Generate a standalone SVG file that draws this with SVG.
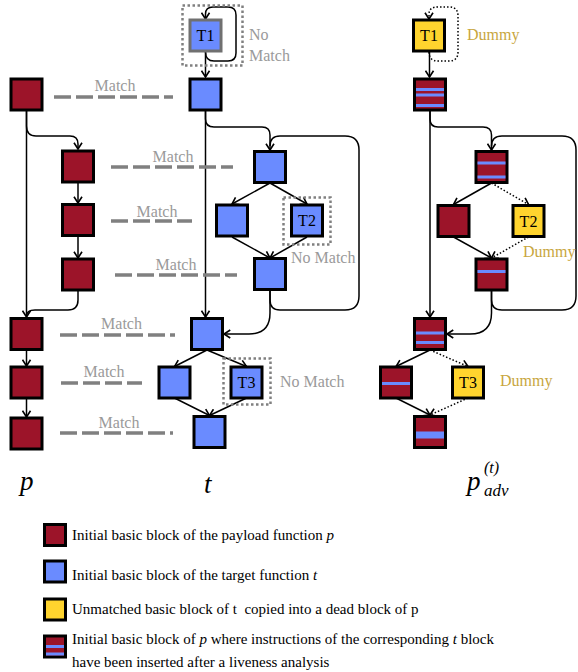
<svg xmlns="http://www.w3.org/2000/svg" width="578" height="672" viewBox="0 0 578 672">
<defs>
<style>
.bx{stroke:#000;stroke-width:3}
.red{fill:#9c1429}
.blue{fill:#6a8bff}
.yel{fill:#ffd42e}
.stp{fill:#6a8bff}
.e{fill:none;stroke:#000;stroke-width:1.5}
.d{fill:none;stroke:#000;stroke-width:1.5;stroke-dasharray:1.5 2}
.m{fill:none;stroke:#808080;stroke-width:3.5;stroke-dasharray:17 5}
.dot{fill:none;stroke:#808080;stroke-width:2.5;stroke-dasharray:2.5 2.5}
.lbl{font-family:"Liberation Serif","DejaVu Serif",serif;font-size:16px;fill:#9a9a9a}
.dum{font-family:"Liberation Serif","DejaVu Serif",serif;font-size:16px;fill:#c8a640}
.tn{font-family:"Liberation Serif","DejaVu Serif",serif;font-size:16px;fill:#000;text-anchor:middle}
.big{font-family:"Liberation Serif","DejaVu Serif",serif;font-style:italic;fill:#000}
.leg{font-family:"Liberation Serif","DejaVu Serif",serif;font-size:15px;fill:#000}
</style>
<marker id="ar" markerUnits="userSpaceOnUse" markerWidth="10" markerHeight="10" refX="0" refY="0" viewBox="-6 -4 7 8" orient="auto">
<path d="M-5,-3.2 L0,0 L-5,3.2" fill="none" stroke="#000" stroke-width="1.3"/>
</marker>
</defs>

<g id="connectors">
<!-- p -->
<path class="e" d="M26.5,111 L26.5,317" marker-end="url(#ar)"/>
<path class="e" d="M26.5,111 L26.5,126 Q26.5,136 36,136 L70,136 Q78,136 78,144 L78,149" marker-end="url(#ar)"/>
<path class="e" d="M78,183 L78,203" marker-end="url(#ar)"/>
<path class="e" d="M78,236 L78,258" marker-end="url(#ar)"/>
<path class="e" d="M78,291 L78,300 Q78,310 68,310 L35,310 Q26.5,310 26.5,316"/>
<path class="e" d="M26.5,350 L26.5,366" marker-end="url(#ar)"/>
<path class="e" d="M26.5,399 L26.5,417" marker-end="url(#ar)"/>
<!-- t -->
<path class="e" d="M205.5,52 Q205.5,61 214,61 L228,61 Q236,61 236,53 L236,15 Q236,7 228,7 L213,7 Q205.5,7 205.5,14 L205.5,19" marker-end="url(#ar)"/>
<path class="e" d="M205.5,52 L205.5,77" marker-end="url(#ar)"/>
<path class="e" d="M205.5,111 L205.5,317" marker-end="url(#ar)"/>
<path class="e" d="M205.5,111 L205.5,119 Q205.5,127 214,127 L262,127 Q270,127 270,135 L270,150" marker-end="url(#ar)"/>
<path class="e" d="M270,290 L270,300 Q270,310 280,310 L345,310 Q359,310 359,296 L359,150 Q359,136 345,136 L280,136 Q270,136 270,146"/>
<path class="e" d="M270,183 L232,204" marker-end="url(#ar)"/>
<path class="e" d="M270,183 L307,204" marker-end="url(#ar)"/>
<path class="e" d="M232,237 L270,258" marker-end="url(#ar)"/>
<path class="e" d="M307,237 L270,258" marker-end="url(#ar)"/>
<path class="e" d="M270,290 L270,313 Q270,334 249,334 L224,334" marker-end="url(#ar)"/>
<path class="e" d="M207,350 L174.5,366.5" marker-end="url(#ar)"/>
<path class="e" d="M207,350 L246.5,366.5" marker-end="url(#ar)"/>
<path class="e" d="M174.5,398 L209.5,415.5" marker-end="url(#ar)"/>
<path class="e" d="M246.5,398 L209.5,415.5" marker-end="url(#ar)"/>
<!-- p_adv -->
<path class="d" d="M429,52 Q429,61 438,61 L449,61 Q458,61 458,52 L458,16 Q458,7 449,7 L438,7 Q429,7 429,14 L429,19" marker-end="url(#ar)"/>
<path class="e" d="M429.5,52 L429.5,77" marker-end="url(#ar)"/>
<path class="e" d="M430,111 L430,317" marker-end="url(#ar)"/>
<path class="e" d="M430,111 L430,119 Q430,127 438,127 L483,127 Q491.5,127 491.5,135 L491.5,150" marker-end="url(#ar)"/>
<path class="e" d="M491.5,291 L491.5,300 Q491.5,310 502,310 L562,310 Q576,310 576,296 L576,150 Q576,136 562,136 L502,136 Q491.5,136 491.5,146"/>
<path class="e" d="M491.5,183 L453.5,204.5" marker-end="url(#ar)"/>
<path class="d" d="M491.5,183 L528.5,204.5" marker-end="url(#ar)"/>
<path class="e" d="M453.5,237 L491.5,258" marker-end="url(#ar)"/>
<path class="d" d="M528.5,237 L491.5,258" marker-end="url(#ar)"/>
<path class="e" d="M491.5,291 L491.5,313 Q491.5,334 470,334 L447,334" marker-end="url(#ar)"/>
<path class="e" d="M430,350 L396,366.5" marker-end="url(#ar)"/>
<path class="d" d="M430,350 L468,366.5" marker-end="url(#ar)"/>
<path class="e" d="M396,398 L430,415" marker-end="url(#ar)"/>
<path class="d" d="M468,398 L430,415" marker-end="url(#ar)"/>
</g>

<g id="matches">
<path class="m" d="M54,97 L173,97"/>
<text class="lbl" x="115" y="90.5" text-anchor="middle">Match</text>
<path class="m" d="M111,167 L233,167"/>
<text class="lbl" x="173" y="162" text-anchor="middle">Match</text>
<path class="m" d="M111,221 L192,221"/>
<text class="lbl" x="157" y="216.5" text-anchor="middle">Match</text>
<path class="m" d="M115,275 L237,275"/>
<text class="lbl" x="176" y="270" text-anchor="middle">Match</text>
<path class="m" d="M60,335 L175,335"/>
<text class="lbl" x="121.5" y="329" text-anchor="middle">Match</text>
<path class="m" d="M61,383 L142,383"/>
<text class="lbl" x="104" y="377" text-anchor="middle">Match</text>
<path class="m" d="M60,433 L173,433"/>
<text class="lbl" x="119" y="428" text-anchor="middle">Match</text>
</g>

<!-- p nodes -->
<g id="p1"><rect class="bx red" x="11" y="79" width="31" height="31"/></g>
<g id="p2"><rect class="bx red" x="62.5" y="151" width="31" height="31"/></g>
<g id="p3"><rect class="bx red" x="62.5" y="204.5" width="31" height="31"/></g>
<g id="p4"><rect class="bx red" x="62.5" y="259" width="31" height="31"/></g>
<g id="p5"><rect class="bx red" x="11" y="318.5" width="31" height="31"/></g>
<g id="p6"><rect class="bx red" x="11" y="367" width="31" height="31"/></g>
<g id="p7"><rect class="bx red" x="11" y="418" width="31" height="31"/></g>

<!-- t nodes -->
<g id="t1box"><rect class="dot" x="182.5" y="5.5" width="60" height="60"/></g>
<g id="t1"><rect class="blue" x="190" y="20" width="31" height="31" stroke="#707070" stroke-width="3"/><text class="tn" x="205.5" y="41">T1</text></g>
<text class="lbl" x="249" y="40">No</text>
<text class="lbl" x="249" y="61">Match</text>
<g id="tb"><rect class="bx blue" x="190" y="79" width="31" height="31"/></g>
<g id="tc"><rect class="bx blue" x="254.5" y="151.5" width="31" height="31"/></g>
<g id="td"><rect class="bx blue" x="216.5" y="205" width="31" height="31"/></g>
<g id="t2box"><rect class="dot" x="283.5" y="197.5" width="47" height="47"/></g>
<g id="t2"><rect class="bx blue" x="291.5" y="205" width="31" height="31"/><text class="tn" x="307" y="226">T2</text></g>
<text class="lbl" x="291" y="263">No Match</text>
<g id="tf"><rect class="bx blue" x="254.5" y="258.5" width="31" height="31"/></g>
<g id="tg"><rect class="bx blue" x="191.5" y="318.5" width="31" height="31"/></g>
<g id="th"><rect class="bx blue" x="159" y="367" width="31" height="31"/></g>
<g id="t3box"><rect class="dot" x="223.5" y="358.5" width="47" height="46"/></g>
<g id="t3"><rect class="bx blue" x="231" y="367" width="31" height="31"/><text class="tn" x="246.5" y="388">T3</text></g>
<text class="lbl" x="280" y="387">No Match</text>
<g id="tj"><rect class="bx blue" x="194" y="416.5" width="31" height="31"/></g>

<!-- p_adv nodes -->
<g id="a1"><rect class="bx yel" x="413.5" y="20" width="31" height="31"/><text class="tn" x="429" y="41">T1</text></g>
<text class="dum" x="467" y="40">Dummy</text>
<g id="a2"><rect class="bx red" x="414.5" y="79" width="31" height="31"/>
<rect class="stp" x="416" y="88" width="28" height="3"/><rect class="stp" x="416" y="93.5" width="28" height="3"/><rect class="stp" x="416" y="104" width="28" height="3"/></g>
<g id="a3"><rect class="bx red" x="476" y="151.5" width="31" height="31"/>
<rect class="stp" x="477.5" y="161.5" width="28" height="3"/><rect class="stp" x="477.5" y="175.5" width="28" height="3"/></g>
<g id="a4"><rect class="bx red" x="438" y="205.5" width="31" height="31"/></g>
<g id="a5"><rect class="bx yel" x="513" y="205.5" width="31" height="31"/><text class="tn" x="528.5" y="226.5">T2</text></g>
<text class="dum" x="523" y="257">Dummy</text>
<g id="a6"><rect class="bx red" x="476" y="259" width="31" height="31"/>
<rect class="stp" x="477.5" y="270" width="28" height="3"/></g>
<g id="a7"><rect class="bx red" x="414.5" y="318.5" width="31" height="31"/>
<rect class="stp" x="416" y="331.5" width="28" height="3"/><rect class="stp" x="416" y="341" width="28" height="3"/></g>
<g id="a8"><rect class="bx red" x="380.5" y="367" width="31" height="31"/>
<rect class="stp" x="382" y="382" width="28" height="3"/></g>
<g id="a9"><rect class="bx yel" x="452.5" y="367" width="31" height="31"/><text class="tn" x="468" y="388">T3</text></g>
<text class="dum" x="500" y="386">Dummy</text>
<g id="a10"><rect class="bx red" x="414.5" y="416.5" width="31" height="31"/>
<rect class="stp" x="416" y="431.5" width="28" height="7"/></g>

<!-- column labels -->
<text class="big" x="20" y="490" font-size="27">p</text>
<text class="big" x="204" y="493" font-size="27">t</text>
<text class="big" x="467" y="490" font-size="27">p</text>
<text class="big" x="484" y="473" font-size="16" font-style="normal">(<tspan font-style="italic">t</tspan>)</text>
<text class="big" x="484" y="496" font-size="17">adv</text>

<!-- legend -->
<g id="legend">
<rect class="bx red" x="44.5" y="524.5" width="21" height="21"/>
<text class="leg" x="72" y="540">Initial basic block of the payload function <tspan font-style="italic">p</tspan></text>
<rect class="bx blue" x="44.5" y="561" width="21" height="21"/>
<text class="leg" x="72" y="580">Initial basic block of the target function <tspan font-style="italic">t</tspan></text>
<rect class="bx yel" x="44.5" y="599" width="21" height="21"/>
<text class="leg" x="72" y="614" xml:space="preserve">Unmatched basic block of t  copied into a dead block of p</text>
<rect class="bx red" x="44.5" y="636" width="21" height="21"/>
<rect class="stp" x="46" y="645" width="18" height="3"/><rect class="stp" x="46" y="652.5" width="18" height="3"/>
<text class="leg" x="72" y="644">Initial basic block of <tspan font-style="italic">p</tspan> where instructions of the corresponding <tspan font-style="italic">t</tspan> block</text>
<text class="leg" x="72" y="667">have been inserted after a liveness analysis</text>
</g>
</svg>
